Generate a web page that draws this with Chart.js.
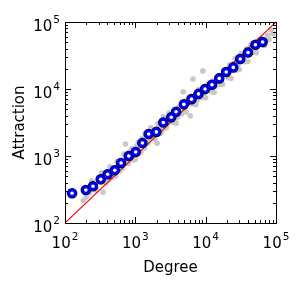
<!DOCTYPE html>
<html>
<head>
<meta charset="utf-8">
<script src="https://cdn.jsdelivr.net/npm/chart.js@4.4.0/dist/chart.umd.min.js"></script>
<style>
  body { margin: 0; background: #fff; }
  canvas { display: block; }
</style>
</head>
<body>
<canvas id="grafico" width="301" height="286"></canvas>
<script>
// binned averages (blue circles)
const binDegree = [126, 198, 250, 322, 404, 510, 627, 806, 1012, 1260, 1550, 1990, 2500, 3240,
  3800, 4900, 6300, 7900, 9800, 12300, 15600, 19600, 24700, 31000, 40000, 51000, 64500];
const binAttraction = [278, 311, 353, 448, 533, 612, 787, 1000, 1150, 1560, 2130, 2290, 3170, 3780,
  4580, 5900, 7050, 8450, 10000, 11600, 14400, 17900, 21000, 28000, 35000, 45700, 50300];

// raw nodes (grey dots)
const rawDegree = [182, 224, 263, 347, 355, 417, 457, 525, 575, 661, 724, 759, 832, 933, 1047, 1148,
  1259, 1349, 1445, 1585, 1738, 1862, 2042, 2188, 2399, 2630, 2818, 3090, 3311, 3631, 3981, 4365,
  4786, 5012, 5495, 6026, 6310, 6607, 7079, 7586, 8318, 9120, 9550, 10471, 11482, 12589, 13804,
  15136, 16596, 18197, 19953, 21878, 23988, 26303, 28840, 31623, 34674, 38019, 41687, 45709,
  50119, 57544, 66069, 75858, 85114,
  200, 240, 282, 331, 380, 437, 479, 550, 603, 692, 794, 891, 1000, 1096, 1202, 1380, 1514, 1660,
  1905, 2089, 2291, 2512, 2754, 3020, 3467, 3802, 4169, 4571, 5248, 5754, 6607, 7244, 7943, 8710,
  10000, 10965, 12023, 13183, 14454, 15849, 17378, 19055, 20893, 22909, 25119, 27542, 30200, 33113,
  36308, 39811, 43652, 47863, 52481, 60256, 69183, 79433, 91201];
const rawAttraction = [219, 282, 363, 288, 501, 437, 575, 501, 724, 661, 1514, 794, 1148, 871, 1380,
  1096, 1820, 1318, 2089, 1738, 2512, 1995, 1549, 2818, 2399, 3631, 2951, 4169, 3311, 4467, 3802,
  5495, 9120, 5012, 6918, 3981, 6026, 14125, 7943, 6918, 9550, 18621, 8511, 11220, 9550, 13183,
  10965, 15849, 13183, 19055, 15849, 22909, 19055, 28840, 22909, 33113, 27542, 39811, 33113,
  47863, 39811, 54954, 45709, 63096, 75858,
  245, 427, 309, 562, 398, 692, 479, 832, 603, 1072, 776, 1288, 891, 1585, 1148, 2138, 1549, 2630,
  1778, 3020, 2188, 3890, 2630, 4365, 3162, 3090, 5370, 4266, 4571, 7586, 6026, 5888, 9772, 7413,
  7413, 12023, 9120, 8913, 15136, 11749, 11749, 19498, 14791, 14454, 23988, 19055, 19498, 33884,
  25704, 25704, 44668, 35481, 34674, 56234, 44668, 54954, 66069];

const diagonal = [100, 100000];
const decades = [2, 3, 4, 5];

function pts(xs, ys) {
  return xs.map((x, i) => ({ x: x, y: ys[i] }));
}

const ejes = {
  id: 'ejes',
  afterDraw(chart) {
    const ctx = chart.ctx;
    const a = chart.chartArea;
    const sx = chart.scales.x, sy = chart.scales.y;
    ctx.save();
    ctx.strokeStyle = '#000';
    ctx.lineWidth = 1;
    ctx.strokeRect(Math.round(a.left) + 0.5, Math.round(a.top) + 0.5,
      Math.round(a.right - a.left), Math.round(a.bottom - a.top));

    // ticks inside on every side
    ctx.beginPath();
    for (let d = 2; d <= 5; d++) {
      for (let m = 1; m <= 9; m++) {
        if (d === 5 && m > 1) break;
        const v = m * Math.pow(10, d);
        const len = m === 1 ? 6 : 3;
        const px = Math.round(sx.getPixelForValue(v)) + 0.5;
        ctx.moveTo(px, a.bottom); ctx.lineTo(px, a.bottom - len);
        ctx.moveTo(px, a.top); ctx.lineTo(px, a.top + len);
        const py = Math.round(sy.getPixelForValue(v)) + 0.5;
        ctx.moveTo(a.left, py); ctx.lineTo(a.left + len, py);
        ctx.moveTo(a.right, py); ctx.lineTo(a.right - len, py);
      }
    }
    ctx.stroke();

    // tick labels 10^n
    ctx.fillStyle = '#000';
    ctx.textBaseline = 'alphabetic';
    const big = '15px "DejaVu Sans"', small = '10.5px "DejaVu Sans"';
    decades.forEach(d => {
      ctx.font = big;
      const w1 = ctx.measureText('10').width;
      ctx.font = small;
      const w2 = ctx.measureText(String(d)).width;
      // x axis
      const px = sx.getPixelForValue(Math.pow(10, d));
      const x0 = px - (w1 + w2 + 1) / 2;
      ctx.font = big;
      ctx.fillText('10', x0, 248);
      ctx.font = small;
      ctx.fillText(String(d), x0 + w1 + 1, 240);
      // y axis
      const py = sy.getPixelForValue(Math.pow(10, d));
      const xr = 60;
      ctx.font = big;
      ctx.fillText('10', xr - w2 - 1 - w1, py + 8.5);
      ctx.font = small;
      ctx.fillText(String(d), xr - w2, py + 0.5);
    });

    // axis titles
    ctx.font = '15px "DejaVu Sans"';
    ctx.textAlign = 'center';
    ctx.fillText('Degree', (a.left + a.right) / 2, 272);
    ctx.translate(24, (a.top + a.bottom) / 2);
    ctx.rotate(-Math.PI / 2);
    ctx.fillText('Attraction', 0, 0);
    ctx.restore();
  }
};

new Chart(document.getElementById('grafico'), {
  type: 'scatter',
  data: {
    datasets: [
      {
        label: 'bins centro',
        data: pts(binDegree, binAttraction),
        backgroundColor: '#ffffff',
        borderWidth: 0,
        pointRadius: 1.8,
        order: 0
      },
      {
        label: 'bins',
        data: pts(binDegree, binAttraction),
        backgroundColor: '#0000ff',
        borderColor: '#000060',
        borderWidth: 1.2,
        pointRadius: 4.7,
        order: 1
      },
      {
        type: 'line',
        label: 'y = x',
        data: pts(diagonal, diagonal),
        borderColor: '#ff0000',
        borderWidth: 1.2,
        pointRadius: 0,
        fill: false,
        order: 2
      },
      {
        label: 'nodos',
        data: pts(rawDegree, rawAttraction),
        backgroundColor: '#c8c8c8',
        borderWidth: 0,
        pointRadius: 2.8,
        order: 3
      }
    ]
  },
  options: {
    responsive: false,
    animation: false,
    layout: { padding: { left: 65, right: 25, top: 22, bottom: 63 } },
    plugins: { legend: { display: false }, tooltip: { enabled: false } },
    scales: {
      x: { type: 'logarithmic', min: 100, max: 100000, display: false },
      y: { type: 'logarithmic', min: 100, max: 100000, display: false }
    }
  },
  plugins: [ejes]
});
</script>
</body>
</html>
